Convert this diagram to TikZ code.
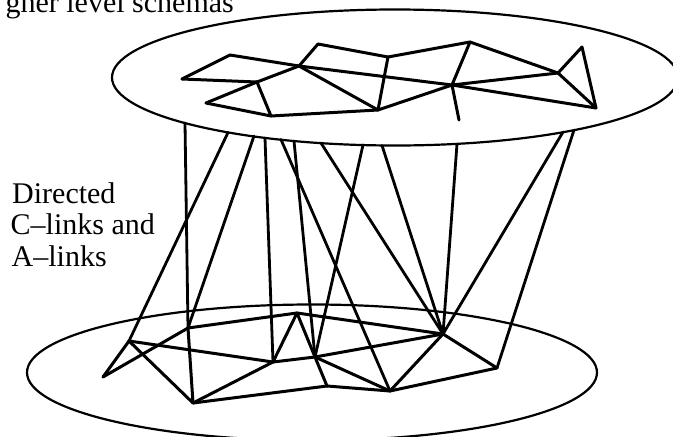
\documentclass[tikz,border=0pt]{standalone}
\usepackage{fontspec}
\setmainfont{Liberation Serif}
\begin{document}
\begin{tikzpicture}[x=1pt,y=-1pt,
  ring/.style={line width=2.2pt},
  edge/.style={line width=3pt, line cap=round, line join=round},
  link/.style={line width=2.8pt, line cap=round},
  lbl/.style={inner sep=0pt, anchor=base west, font=\fontsize{30}{31.5}\selectfont}]
\useasboundingbox (0,0) rectangle (673,437);
\clip (0,0) rectangle (673,437);

% ellipses
\draw[ring] (395,77.5) ellipse [x radius=283pt, y radius=68pt];
\draw[ring] (312,372.5) ellipse [x radius=285pt, y radius=68pt];

% labels
\node[lbl, anchor=base east] (title) at (234,12) {gher level schemas};
\node[lbl] (t1) at (12,203.5) {Directed};
\node[lbl] (t2) at (10.5,234.5) {C--links and};
\node[lbl] (t3) at (11.5,266) {A--links};

% upper graph vertices
\coordinate (A) at (230,55);
\coordinate (B) at (299,66);
\coordinate (C) at (318,44);
\coordinate (D) at (388,57);
\coordinate (E) at (182,79);
\coordinate (F) at (257,82);
\coordinate (G) at (206,103);
\coordinate (H) at (271,116);
\coordinate (I) at (378,110);
\coordinate (K) at (452,85);
\coordinate (L) at (470,42);
\coordinate (M) at (558,73);
\coordinate (N) at (582,47);
\coordinate (O) at (596,108);
\coordinate (Kend) at (459,120);

\foreach \a/\b in {E/A,E/F,A/B,B/C,C/D,F/B,F/G,G/H,F/H,H/I,B/I,B/K,D/I,D/L,
                   L/M,L/K,I/K,K/M,M/N,N/O,M/O,K/O,K/Kend}
  \draw[edge] (\a) -- (\b);

% lower graph vertices
\coordinate (P) at (103,377);
\coordinate (Q) at (129,341);
\coordinate (R) at (188,328);
\coordinate (S) at (273,362);
\coordinate (T) at (193,403);
\coordinate (U) at (297,313);
\coordinate (V) at (327,386);
\coordinate (W) at (315,357);
\coordinate (X) at (390,391);
\coordinate (Y) at (443,334);
\coordinate (Z) at (497,368);

\foreach \a/\b in {P/Q,P/R,Q/S,Q/T,R/U,R/T,T/S,T/V,S/U,S/W,U/W,W/V,V/X,W/X,
                   W/Y,U/Y,X/Y,Y/Z,X/Z}
  \draw[edge] (\a) -- (\b);

% link start points on the upper ellipse
\coordinate (s1) at (185,123);
\coordinate (s2) at (228,132.5);
\coordinate (s3) at (254,136);
\coordinate (s4) at (265,138);
\coordinate (s5) at (281,139.5);
\coordinate (s6) at (294,141);
\coordinate (s7) at (321,143);
\coordinate (s8) at (363,145);
\coordinate (s9) at (382,145.5);
\coordinate (s10) at (457,144);
\coordinate (s11) at (563,132);
\coordinate (s12) at (574,130);

\foreach \a/\b in {s1/R,s2/Q,s3/R,s4/S,s5/X,s6/W,s7/Y,s8/W,s9/Y,s10/Y,s11/Y,s12/Z}
  \draw[link] (\a) -- (\b);
\end{tikzpicture}
\end{document}
